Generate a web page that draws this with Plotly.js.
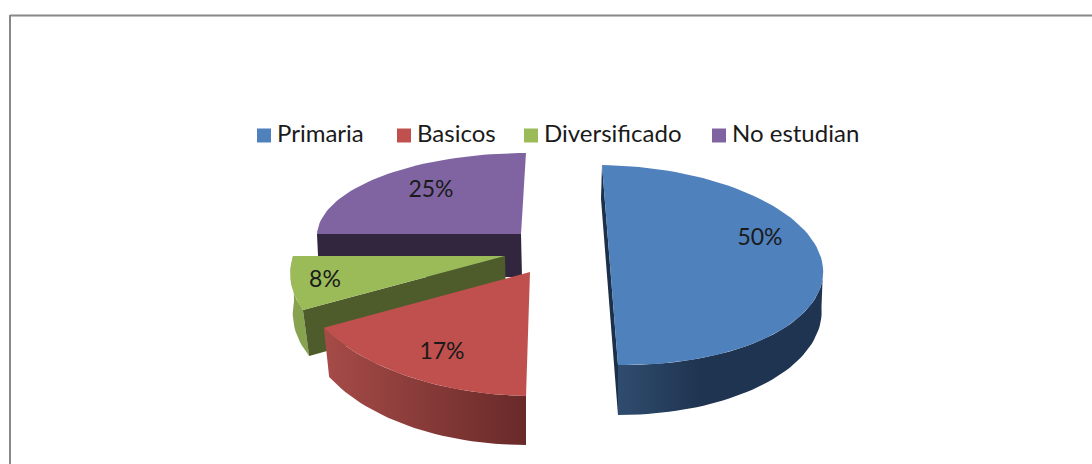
<!DOCTYPE html>
<html>
<head>
<meta charset="utf-8">
<script src="https://cdn.plot.ly/plotly-3.0.1.min.js"></script>
<style>
  html, body { margin: 0; padding: 0; background: #fff; }
  #chart { width: 1092px; height: 464px; }
</style>
</head>
<body>
<div id="chart"></div>
<script>
const categories = ['Primaria', 'Basicos', 'Diversificado', 'No estudian'];
const percents = [50, 17, 8, 25];
const colors = ['#4f81bd', '#c0504d', '#9bbb59', '#8064a2'];

// The axes are in page pixels. Each slice is exploded and foreshortened on its
// own, so top and base are ellipses: [cx, cy, x*sin, x*cos, y*sin, y*cos]
const views = [
  { top: [610, 265, 213, -8, 3, -100], base: [609.5, 307, 212, -8.5, 0, -108], label: [760, 239] },
  { top: [530, 272, 233, 4, 4.5, -124], base: [530, 314, 227, 4, 0, -131], label: [442, 353] },
  { top: [505, 256, 212, 33.8, 0, -112], base: [506, 301, 212, 23, 0, -114], label: [325, 281] },
  { top: [521, 234, 204, 5, 0, -81], base: [522, 277, 203, 5, 0, -81], label: [431, 191] }
];

// legend swatch centres, the row sits above the pie
const legendSpots = [264, 404, 531, 719];
const legendRow = 135.5;

function pointAt(m, deg) {
  const t = deg * Math.PI / 180;
  return [m[0] + m[2] * Math.sin(t) + m[3] * Math.cos(t), m[1] + m[4] * Math.sin(t) + m[5] * Math.cos(t)];
}

function arc(m, from, to) {
  const pts = [];
  const n = Math.max(2, Math.ceil(Math.abs(to - from) / 2));
  for (let i = 0; i <= n; i++) pts.push(pointAt(m, from + (to - from) * i / n));
  return pts;
}

function poly(pts, fill, extra) {
  return Object.assign({
    x: pts.map(p => p[0]),
    y: pts.map(p => p[1]),
    type: 'scatter',
    mode: 'lines',
    fill: 'toself',
    fillcolor: fill,
    line: { width: 0 },
    hoverinfo: 'skip',
    showlegend: false
  }, extra || {});
}

function gradient(stops) {
  return { fillgradient: { type: 'horizontal', colorscale: stops } };
}

// slice start and end angles come from the values, clockwise from the top
const starts = [];
let sum = 0;
percents.forEach(p => { starts.push(sum); sum += p * 3.6; });
const ends = percents.map((p, i) => starts[i] + p * 3.6);

function topFace(i) {
  const m = views[i].top;
  const pts = [[m[0], m[1]]].concat(arc(m, starts[i], ends[i]));
  return poly(pts, colors[i], { hoverinfo: 'text', text: categories[i] + ' ' + percents[i] + '%' });
}

function outerWall(i, from, to, style) {
  const pts = arc(views[i].top, from, to).concat(arc(views[i].base, to, from));
  return poly(pts, style.fillgradient ? undefined : style, style.fillgradient ? style : null);
}

function radialWall(i, deg, color) {
  const t = views[i].top;
  const b = views[i].base;
  return poly([[t[0], t[1]], pointAt(t, deg), pointAt(b, deg), [b[0], b[1]]], color);
}

function chordWall(i, color) {
  const t = views[i].top;
  const b = views[i].base;
  return poly([pointAt(t, starts[i]), pointAt(t, ends[i]), pointAt(b, ends[i]), pointAt(b, starts[i])], color);
}

const plotData = [
  // back to front: No estudian, Diversificado, Basicos, Primaria
  radialWall(3, starts[3], '#32263f'),
  topFace(3),
  outerWall(2, starts[2], ends[2], '#87a34f'),
  radialWall(2, starts[2], '#4e5c2b'),
  topFace(2),
  outerWall(1, starts[1], ends[1], gradient([[0, '#a64b48'], [1, '#682a29']])),
  topFace(1),
  chordWall(0, '#1c3049'),
  outerWall(0, 90, ends[0], gradient([[0, '#2f4c6f'], [0.4, '#1f3450'], [1, '#1f3450']])),
  topFace(0)
];

plotData.push({
  x: views.map(v => v.label[0]),
  y: views.map(v => v.label[1]),
  text: percents.map(p => p + '%'),
  type: 'scatter',
  mode: 'text',
  textposition: 'middle center',
  textfont: { family: 'Lato, sans-serif', size: 23, color: '#1a1a1a' },
  hoverinfo: 'skip',
  showlegend: false
});

// legend row, a native plotly legend can't get the swatch this close to the text
plotData.push({
  x: legendSpots,
  y: legendSpots.map(() => legendRow),
  type: 'scatter',
  mode: 'markers',
  marker: { symbol: 'square', size: 14, color: colors },
  hoverinfo: 'skip',
  showlegend: false
});
plotData.push({
  x: legendSpots.map(x => x + 13),
  y: legendSpots.map(() => legendRow),
  text: categories,
  type: 'scatter',
  mode: 'text',
  textposition: 'middle right',
  textfont: { family: 'Lato, sans-serif', size: 24, color: '#1a1a1a' },
  hoverinfo: 'skip',
  showlegend: false
});

const layout = {
  width: 1092,
  height: 464,
  margin: { l: 0, r: 0, t: 0, b: 0 },
  paper_bgcolor: '#ffffff',
  plot_bgcolor: '#ffffff',
  showlegend: false,
  xaxis: { range: [0, 1092], visible: false, fixedrange: true },
  yaxis: { range: [464, 0], visible: false, fixedrange: true },
  shapes: [
    { type: 'line', xref: 'x', yref: 'y', x0: 10, x1: 1092, y0: 15.5, y1: 15.5, line: { color: '#888888', width: 2 } },
    { type: 'line', xref: 'x', yref: 'y', x0: 10, x1: 10, y0: 15, y1: 464, line: { color: '#888888', width: 2 } }
  ]
};

Plotly.newPlot('chart', plotData, layout, { displayModeBar: false });
</script>
</body>
</html>
